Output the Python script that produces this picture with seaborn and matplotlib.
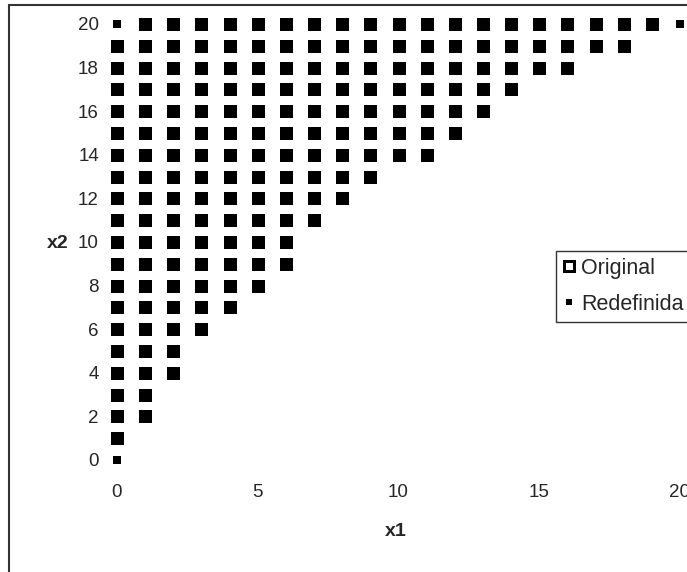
import matplotlib
matplotlib.use("Agg")
import matplotlib.pyplot as plt
import matplotlib.patches as mpatches
from matplotlib.lines import Line2D
import seaborn as sns
import pandas as pd

# Filas x2 = 0..20 y ultimo x1 con punto en cada fila
x2_rows = list(range(0, 21))
last_x1 = [0, 0, 1, 1, 2, 2, 3, 4, 5, 6, 6, 7, 8, 9, 11, 12, 13, 14, 16, 18, 20]
# puntos que solo aparecen en la region redefinida
only_redef = [(0, 0), (0, 20), (20, 20)]

x_ticks = [0, 5, 10, 15, 20]
y_ticks = [0, 2, 4, 6, 8, 10, 12, 14, 16, 18, 20]

# Armar las dos series
redef = [(x1, x2) for x2, last in zip(x2_rows, last_x1) for x1 in range(0, last + 1)]
orig = [p for p in redef if p not in only_redef]
df_orig = pd.DataFrame(orig, columns=["x1", "x2"])
df_redef = pd.DataFrame(redef, columns=["x1", "x2"])

sns.set_style("white")
plt.rcParams["font.family"] = ["Liberation Sans", "DejaVu Sans"]

W, H = 687, 572
fig = plt.figure(figsize=(W / 100, H / 100), dpi=100)
ax = fig.add_axes([117 / W, 1 - 460 / H, (680 - 117) / W, (460 - 24) / H])

# Original: cuadrado hueco con borde grueso; Redefinida: cuadrado negro chico encima
sns.scatterplot(data=df_orig, x="x1", y="x2", marker="s", s=59, color="white",
                edgecolor="black", linewidth=2.16, joinstyle="miter",
                ax=ax, clip_on=False, zorder=3)
sns.scatterplot(data=df_redef, x="x1", y="x2", marker="s", s=28, color="black",
                edgecolor="black", linewidth=0, ax=ax, clip_on=False, zorder=4)

ax.set_xlim(0, 20)
ax.set_ylim(0, 20)
ax.set_xticks(x_ticks)
ax.set_yticks(y_ticks)
ax.tick_params(axis="both", length=0, labelsize=13.5)
ax.tick_params(axis="y", pad=13)
ax.tick_params(axis="x", pad=17)
for s in ax.spines.values():
    s.set_visible(False)
ax.set_facecolor("none")

ax.set_xlabel("")
ax.set_ylabel("")
fig.text(396 / W, 1 - 531 / H, "x1", fontsize=14, fontweight="bold", ha="center", va="center")
fig.text(58 / W, 1 - 243 / H, "x2", fontsize=14, fontweight="bold", ha="center", va="center")

# Leyenda
handles = [
    Line2D([], [], linestyle="none", marker="s", markersize=7.2, markerfacecolor="white",
           markeredgecolor="black", markeredgewidth=2.16, label="Original"),
    Line2D([], [], linestyle="none", marker="s", markersize=5, markerfacecolor="black",
           markeredgewidth=0, label="Redefinida"),
]
leg = fig.legend(handles=handles, loc="upper left", bbox_to_anchor=(556 / W, 1 - 251 / H),
                 fontsize=15.5, frameon=True, fancybox=False, edgecolor="black",
                 borderpad=0.32, handlelength=0.6, handletextpad=0.25, labelspacing=0.7,
                 borderaxespad=0)
leg.get_frame().set_linewidth(1)

# Borde del area del grafico (recortado a la derecha y abajo)
fig.patches.append(mpatches.Rectangle((9 / W, -0.1), 1.2, 1.1 - 5 / H, transform=fig.transFigure,
                                      fill=False, edgecolor="#333333", linewidth=1.5))

plt.savefig("out.png", dpi=100)
